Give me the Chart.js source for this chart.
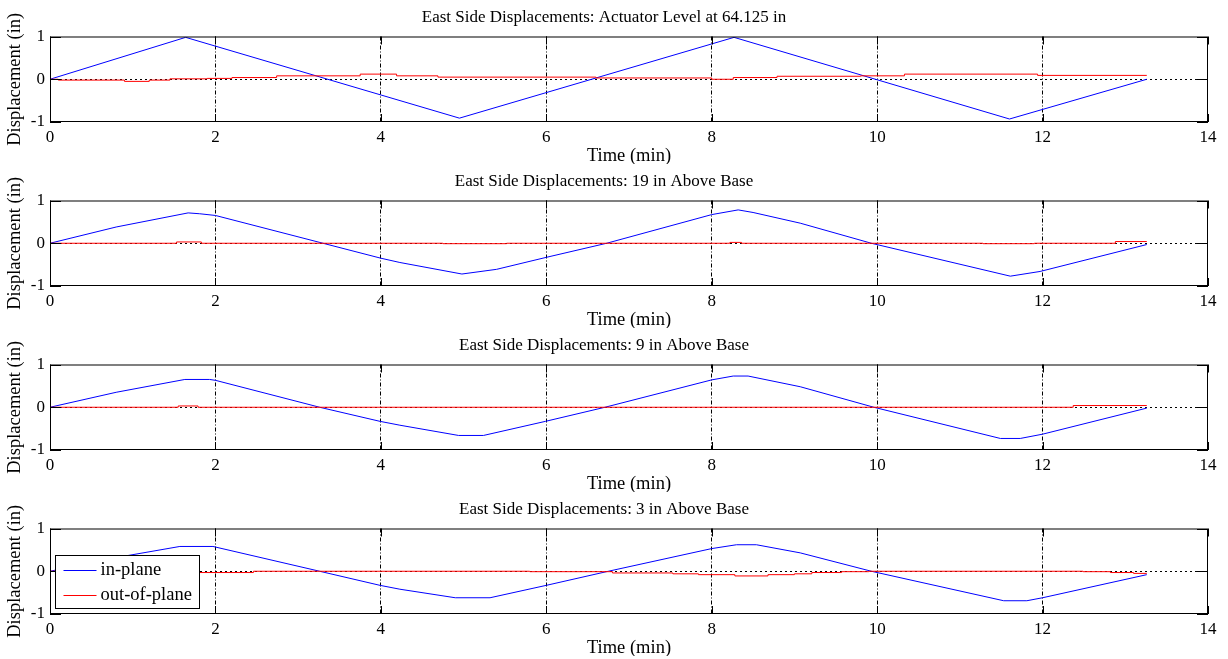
<!DOCTYPE html>
<html>
<head>
<meta charset="utf-8">
<title>East Side Displacements</title>
<script src="https://cdn.jsdelivr.net/npm/chart.js@4.4.0/dist/chart.umd.min.js"></script>
<style>
    body { margin: 0; background: #fff; }
    .panel { position: absolute; left: 0; width: 1228px; height: 164px; }
</style>
</head>
<body>
<div class="panel" style="top:0px"><canvas id="c0" width="1228" height="164"></canvas></div>
<div class="panel" style="top:164px"><canvas id="c1" width="1228" height="164"></canvas></div>
<div class="panel" style="top:328px"><canvas id="c2" width="1228" height="164"></canvas></div>
<div class="panel" style="top:492px"><canvas id="c3" width="1228" height="164"></canvas></div>
<script>
// panel titles, top to bottom
const titles = [
    'East Side Displacements: Actuator Level at 64.125 in',
    'East Side Displacements: 19 in Above Base',
    'East Side Displacements: 9 in Above Base',
    'East Side Displacements: 3 in Above Base'
];
const seriesLabels = ['in-plane', 'out-of-plane'];
const xTicks = [0, 2, 4, 6, 8, 10, 12, 14];
const yTicks = [-1, 0, 1];

// in-plane (blue), time in min / displacement in in
const inT1 = [0, 1.64, 4.95, 8.27, 11.6, 13.26];
const inV1 = [0, 0.98, -0.91, 0.98, -0.93, 0];
const inT2 = [0, 0.8, 1.67, 1.81, 2.0, 4.0, 4.23, 4.98, 5.4, 6.0, 6.73, 8.0, 8.32, 8.5, 9.07, 9.93, 11.61, 11.97, 13.26];
const inV2 = [0, 0.38, 0.71, 0.69, 0.65, -0.35, -0.45, -0.72, -0.61, -0.33, 0, 0.67, 0.78, 0.72, 0.47, 0, -0.77, -0.66, -0.03];
const inT3 = [0, 0.8, 1.63, 1.93, 2.0, 3.26, 3.99, 4.23, 4.94, 5.24, 5.99, 6.71, 8.0, 8.26, 8.44, 9.07, 9.96, 11.49, 11.73, 12.0, 13.26];
const inV3 = [0, 0.35, 0.65, 0.65, 0.63, 0, -0.33, -0.42, -0.66, -0.66, -0.33, 0, 0.64, 0.73, 0.73, 0.48, 0, -0.73, -0.73, -0.63, -0.02];
const inT4 = [0, 0.8, 1.57, 1.97, 3.26, 3.99, 4.23, 4.9, 5.32, 6.0, 6.75, 8.0, 8.3, 8.54, 9.07, 9.93, 11.53, 11.81, 12.0, 13.26];
const inV4 = [0, 0.32, 0.58, 0.58, 0, -0.33, -0.42, -0.62, -0.62, -0.33, 0, 0.53, 0.62, 0.62, 0.43, 0, -0.69, -0.69, -0.62, -0.08];

// out-of-plane (red), held until the next time value
const outT1 = [0, 0.1, 0.9, 1.2, 1.45, 1.9, 2.2, 2.74, 3.75, 4.19, 4.69, 6.6, 8.0, 8.26, 8.79, 9.8, 10.33, 11.94, 13.26];
const outV1 = [0, -0.02, -0.05, -0.02, 0.01, 0.02, 0.04, 0.08, 0.12, 0.08, 0.05, 0.03, 0.0, 0.04, 0.07, 0.08, 0.12, 0.09, 0.09];
const outT2 = [0, 1.53, 1.83, 4.75, 5.52, 8.22, 8.36, 11.28, 11.9, 12.88, 13.26];
const outV2 = [0, 0.03, 0, -0.01, 0, 0.02, 0, -0.01, 0, 0.04, 0.04];
const outT3 = [0, 1.55, 1.79, 12.37, 13.26];
const outV3 = [0, 0.03, 0, 0.04, 0.04];
const outT4 = [0, 1.79, 2.46, 5.8, 6.8, 7.53, 7.84, 8.28, 8.68, 9.0, 9.21, 9.57, 9.9, 12.49, 12.82, 13.1, 13.26];
const outV4 = [0, -0.03, 0, -0.01, -0.04, -0.06, -0.08, -0.11, -0.08, -0.06, -0.03, -0.01, 0, -0.01, -0.03, -0.05, -0.05];

const inPlane = [[inT1, inV1], [inT2, inV2], [inT3, inV3], [inT4, inV4]];
const outPlane = [[outT1, outV1], [outT2, outV2], [outT3, outV3], [outT4, outV4]];

const serif = "'Liberation Serif', 'Times New Roman', serif";
Chart.defaults.font.family = serif;
Chart.defaults.font.size = 17;
Chart.defaults.color = '#000';

function toPoints(t, v) {
    return t.map((x, i) => ({ x: x, y: v[i] }));
}

// box around the axes plus inward tick marks
const frame = {
    id: 'frame',
    afterDatasetsDraw(chart) {
        const { ctx, chartArea: a, scales: { x, y } } = chart;
        ctx.save();
        ctx.strokeStyle = '#000';
        ctx.lineWidth = 1;
        ctx.setLineDash([]);
        ctx.strokeRect(a.left + 0.5, a.top + 0.5, a.right - a.left - 1, a.bottom - a.top - 1);
        ctx.beginPath();
        xTicks.forEach(v => {
            const px = Math.round(x.getPixelForValue(v)) + 0.5;
            ctx.moveTo(px, a.top); ctx.lineTo(px, a.top + 8);
            ctx.moveTo(px, a.bottom); ctx.lineTo(px, a.bottom - 8);
        });
        yTicks.forEach(v => {
            const py = Math.round(y.getPixelForValue(v)) + 0.5;
            ctx.moveTo(a.left, py); ctx.lineTo(a.left + 11, py);
            ctx.moveTo(a.right, py); ctx.lineTo(a.right - 11, py);
        });
        ctx.stroke();
        ctx.restore();
    }
};

// boxed legend in the lower left corner of the plot
const boxLegend = {
    id: 'boxLegend',
    afterDraw(chart) {
        const { ctx, chartArea: a } = chart;
        const w = 144, h = 53;
        const bx = Math.round(a.left + 5) + 0.5;
        const by = Math.round(a.bottom - 6 - h) + 0.5;
        ctx.save();
        ctx.fillStyle = '#fff';
        ctx.fillRect(bx, by, w, h);
        ctx.strokeStyle = '#000';
        ctx.lineWidth = 1;
        ctx.strokeRect(bx, by, w, h);
        ctx.font = '18.5px ' + serif;
        ctx.textBaseline = 'middle';
        ctx.textAlign = 'left';
        chart.data.datasets.forEach((ds, i) => {
            const ly = Math.round(by + 14 + i * 25) + 0.5;
            ctx.strokeStyle = ds.borderColor;
            ctx.beginPath();
            ctx.moveTo(bx + 8, ly);
            ctx.lineTo(bx + 41, ly);
            ctx.stroke();
            ctx.fillStyle = '#000';
            ctx.fillText(ds.label, bx + 45, ly);
        });
        ctx.restore();
    }
};

titles.forEach((title, k) => {
    const ctx = document.getElementById('c' + k).getContext('2d');
    new Chart(ctx, {
        type: 'line',
        data: {
            datasets: [{
                label: seriesLabels[0],
                data: toPoints(inPlane[k][0], inPlane[k][1]),
                borderColor: '#0000ff',
                borderWidth: 1,
                pointRadius: 0,
                tension: 0,
                order: 1
            }, {
                label: seriesLabels[1],
                data: toPoints(outPlane[k][0], outPlane[k][1]),
                borderColor: '#ff0000',
                borderWidth: 1,
                pointRadius: 0,
                stepped: 'before',
                order: 0
            }]
        },
        options: {
            responsive: false,
            animation: false,
            layout: { padding: { left: 0, right: 20, top: 0, bottom: 0 } },
            plugins: {
                legend: { display: false },
                tooltip: { enabled: false },
                title: {
                    display: true,
                    text: title,
                    font: { size: 17, weight: 'normal', lineHeight: 1.2 },
                    padding: { top: 7, bottom: 9.1 }
                }
            },
            scales: {
                x: {
                    type: 'linear',
                    min: 0,
                    max: 14,
                    afterBuildTicks: s => { s.ticks = xTicks.map(v => ({ value: v })); },
                    afterFit: s => { s.height = 42; },
                    ticks: { maxRotation: 0, autoSkip: false, padding: 5 },
                    grid: {
                        drawTicks: false,
                        lineWidth: 1,
                        color: c => (c.tick && (c.tick.value === 0 || c.tick.value === 14)) ? 'rgba(0,0,0,0)' : '#000'
                    },
                    border: { display: false, dash: [4, 2, 1, 2] },
                    title: {
                        display: true,
                        text: 'Time (min)',
                        font: { size: 18.5, lineHeight: 1 },
                        padding: { top: 0, bottom: -1 }
                    }
                },
                y: {
                    min: -1,
                    max: 1,
                    afterBuildTicks: s => { s.ticks = yTicks.map(v => ({ value: v })); },
                    afterFit: s => { s.width = 50; },
                    ticks: { padding: 5 },
                    grid: {
                        drawTicks: false,
                        lineWidth: 1,
                        color: c => (c.tick && c.tick.value === 0) ? '#000' : 'rgba(0,0,0,0)'
                    },
                    border: { display: false, dash: [2, 3] },
                    title: {
                        display: true,
                        text: 'Displacement (in)',
                        font: { size: 18.5, lineHeight: 1 },
                        padding: { top: 6, bottom: 0 }
                    }
                }
            }
        },
        plugins: k === 3 ? [frame, boxLegend] : [frame]
    });
});
</script>
</body>
</html>
